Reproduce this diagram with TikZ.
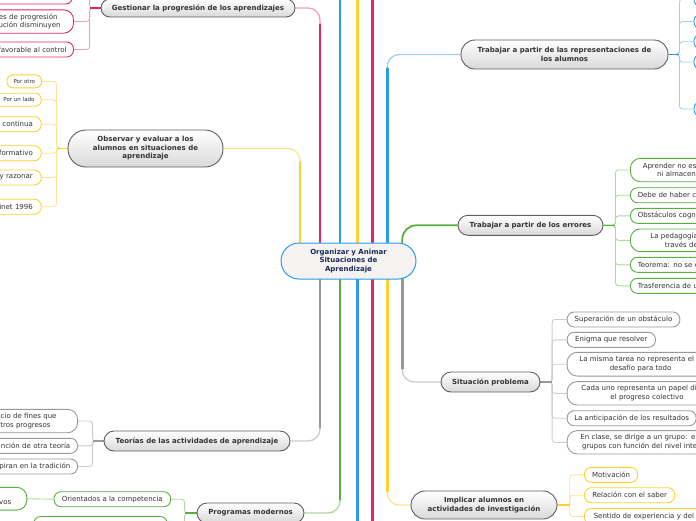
\documentclass[tikz,border=0pt]{standalone}
\usepackage{fontspec}
\setmainfont{DejaVu Sans}
\usetikzlibrary{calc}
\definecolor{redM}{HTML}{E2266C}
\definecolor{redL}{HTML}{F4A0BE}
\definecolor{yelM}{HTML}{FDD22E}
\definecolor{yelL}{HTML}{FCE592}
\definecolor{bluM}{HTML}{2C9AE8}
\definecolor{bluL}{HTML}{9CCFF5}
\definecolor{grnM}{HTML}{58AE3E}
\definecolor{grnL}{HTML}{ACD9A0}
\definecolor{gryM}{HTML}{999999}
\definecolor{gryL}{HTML}{CCCCCC}
\definecolor{txt}{HTML}{333333}
\definecolor{navy}{HTML}{1B2A56}
\definecolor{mainbd}{HTML}{5E5E5E}
\definecolor{cenfill}{HTML}{F5F3F2}
\pgfdeclarelayer{bg}
\pgfsetlayers{bg,main}
\begin{document}
\begin{tikzpicture}[x=1pt,y=-1pt,
  topic/.style={draw=mainbd, line width=0.9pt, top color=white, bottom color=black!15,
    text=txt, font=\fontsize{7}{8.5}\selectfont\bfseries, align=center, inner sep=0pt},
  leaf/.style={fill=white, line width=0.9pt, text=txt, font=\fontsize{7}{8.5}\selectfont,
    inner ysep=0pt, rounded corners=7pt, minimum height=15pt},
  leaf2/.style={leaf, minimum height=23.4pt, rounded corners=10pt},
  small/.style={font=\fontsize{5.5}{6.5}\selectfont, minimum height=13pt, rounded corners=6pt},
  lcut/.style={anchor=east, text width=110pt, align=right},
  rcut/.style={anchor=west, text width=160pt, align=left},
  leafR/.style={leaf, draw=redM},
  leafY/.style={leaf, draw=yelM},
  leafB/.style={leaf, draw=bluM},
  leafG/.style={leaf, draw=grnM},
  leafK/.style={leaf, draw=gryM},
  trunk/.style={line width=2.6pt, line cap=round},
  twig/.style={line width=1.3pt, rounded corners=12pt},
  sub/.style={line width=0.9pt, rounded corners=3pt},
  stub/.style={line width=1.5pt}
]
\useasboundingbox (0,0) rectangle (696,520);
\clip (0,0) rectangle (696,520);

% ---------- centre ----------
\node[draw=bluM, line width=1pt, fill=cenfill, text=navy, font=\fontsize{7}{8.3}\selectfont\bfseries,
  align=center, minimum width=135pt, minimum height=36pt, rounded corners=18pt, inner sep=0pt]
  (cen) at (348.5,261) {Organizar y Animar\\Situaciones de\\Aprendizaje};

% ---------- main topics ----------
\node[topic, minimum width=194pt, minimum height=18pt, rounded corners=9pt] (gest) at (198,8)
  {Gestionar la progresión de los aprendizajes};
\node[topic, minimum width=155pt, minimum height=37pt, rounded corners=18pt] (obs) at (145.5,148.5)
  {Observar y evaluar a los\\alumnos en situaciones de\\aprendizaje};
\node[topic, minimum width=186pt, minimum height=20pt, rounded corners=10pt] (teo) at (197,441)
  {Teorías de las actividades de aprendizaje};
\node[topic, minimum width=107pt, minimum height=20pt, rounded corners=10pt] (prog) at (250.5,513)
  {Programas modernos};
\node[topic, minimum width=207pt, minimum height=29pt, rounded corners=14pt] (trep) at (564.5,54.5)
  {Trabajar a partir de las representaciones de\\los alumnos};
\node[topic, minimum width=145pt, minimum height=20pt, rounded corners=10pt] (terr) at (530.5,225.3)
  {Trabajar a partir de los errores};
\node[topic, minimum width=99pt, minimum height=20pt, rounded corners=10pt] (sit) at (490.5,382)
  {Situación problema};
\node[topic, minimum width=146pt, minimum height=28pt, rounded corners=14pt] (impl) at (484,505)
  {Implicar alumnos en\\actividades de investigación};

% ---------- red leaves ----------
\node[leafR, anchor=east, minimum width=100pt, minimum height=16pt] (rc0) at (73,-4) {};
\node[leafR, leaf2, lcut, inner xsep=13pt] (rc1) at (74,21.5) {es de progresión\kern3pt\\ución disminuyen};
\node[leafR, lcut, inner xsep=7pt] (rc2) at (74,49.5) {favorable al control};

% ---------- yellow leaves (left) ----------
\node[leafY, small, minimum width=34.7pt, inner xsep=0pt] (yc1) at (24.3,81.3) {Por otro};
\node[leafY, small, lcut, inner xsep=6.7pt] (yc2) at (41.7,99.7) {Por un lado};
\node[leafY, lcut, inner xsep=8.4pt] (yc3) at (41.7,124.2) {a continua};
\node[leafY, lcut, inner xsep=8.4pt] (yc4) at (41.7,153.2) {formativo};
\node[leafY, lcut, inner xsep=8.4pt] (yc5) at (41.7,177.5) {y razonar};
\node[leafY, lcut, inner xsep=8.4pt] (yc6) at (41.7,206.7) {inet 1996};

% ---------- grey leaves (left) ----------
\node[leafK, leaf2, lcut, inner xsep=21pt] (gc1) at (78,421) {icio de fines que\\tros progresos\kern6pt};
\node[leafK, lcut, inner xsep=7.3pt] (gc2) at (78,445.8) {nción de otra teoría};
\node[leafK, lcut, inner xsep=7.3pt] (gc3) at (78,466.5) {piran en la tradición};

% ---------- green leaves (left) ----------
\node[leafG, minimum width=116.7pt, inner xsep=0pt] (pc1) at (112.3,499.2) {Orientados a la competencia};
\node[leafG, anchor=north west, minimum width=133.4pt, minimum height=20pt] (pc2) at (33.3,516) {};
\node[leafG, leaf2, lcut, text width=60pt, inner xsep=15.6pt, minimum height=22.7pt] (pc0) at (27.3,498.7) {\phantom{vos}\\vos};

% ---------- blue leaves (right) ----------
\foreach \n/\yy in {b0/-1, b1/21.5, b2/41.7, b3/62, b4/109}
  \node[leafB, anchor=west, minimum width=40pt] (\n) at (693.5,\yy) {};

% ---------- green leaves (right) ----------
\node[leafG, leaf2, rcut, inner xsep=12.3pt] (ec1) at (630,170) {Aprender no es\\\hspace*{14.4pt}ni almacena};
\node[leafG, rcut, inner xsep=7.3pt] (ec2) at (630,195.2) {Debe de haber c};
\node[leafG, rcut, inner xsep=7.3pt] (ec3) at (630,215.8) {Obstáculos cogni};
\node[leafG, leaf2, rcut, inner xsep=20pt, minimum height=22.7pt] (ec4) at (630,240.3) {La pedagogía\\\hspace*{14.3pt}través de};
\node[leafG, rcut, inner xsep=7.3pt] (ec5) at (630,264.8) {Teorema: no se e};
\node[leafG, rcut, inner xsep=7.3pt] (ec6) at (630,285.8) {Trasferencia de u};

% ---------- grey leaves (right) ----------
\node[leafK, anchor=west, minimum width=112.7pt, inner xsep=0pt] (sc1) at (566.7,319.5) {Superación de un obstáculo};
\node[leafK, anchor=west, minimum width=88.3pt, inner xsep=0pt] (sc2) at (566.7,339.8) {Enigma que resolver};
\node[leafK, leaf2, rcut, inner xsep=12.3pt, minimum height=23.7pt] (sc3) at (566.7,364.2) {La misma tarea no representa el\\\hspace*{30.3pt}desafío para todo};
\node[leafK, leaf2, rcut, inner xsep=14.3pt, minimum height=23.3pt] (sc4) at (566.7,393.3) {Cada uno representa un papel di\\\hspace*{29pt}el progreso colectivo};
\node[leafK, anchor=west, minimum width=129pt, inner xsep=0pt] (sc5) at (566.7,418.2) {La anticipación de los resultados};
\node[leafK, leaf2, rcut, inner xsep=13.3pt, minimum height=23.3pt] (sc6) at (566.7,442.3) {En clase, se dirige a un grupo: e\\\hspace*{1.7pt}grupos con función del nivel inte};

% ---------- yellow leaves (right) ----------
\node[leafY, anchor=west, minimum width=53.3pt, inner xsep=0pt] (ic1) at (584,474.8) {Motivación};
\node[leafY, anchor=west, minimum width=90.3pt, inner xsep=0pt] (ic2) at (584,495.2) {Relación con el saber};
\node[leafY, rcut, inner xsep=9.3pt, minimum height=16pt] (ic3) at (584,516.5) {Sentido de experiencia y del t};

% off-canvas ends of the through lines
\coordinate (upA) at (340,-6);
\coordinate (upB) at (357.3,-6);
\coordinate (upC) at (372.7,-6);
\coordinate (dnA) at (357.3,526);
\coordinate (dnB) at (372.7,526);

\begin{pgfonlayer}{bg}
% through lines
\draw[trunk, bluM] (cen.north -| upA) -- (upA);
\draw[trunk, yelM] (cen.north -| upB) -- (upB);
\draw[trunk, redM] (cen.north -| upC) -- (upC);
\draw[trunk, bluM] (cen.south -| dnA) -- (dnA);
\draw[trunk, redM] (cen.south -| dnB) -- (dnB);

% red : gestionar
\draw[twig, redL] (cen.north) ++(-28.5,0) |- (gest.east);
\draw[trunk, redM] (cen.north) ++(-28.5,0) -- ++(0,-218);
% yellow : observar
\draw[twig, yelL] (cen.north) ++(-48.5,0) |- (obs.east);
\draw[trunk, yelM] (cen.north) ++(-48.5,0) -- ++(0,-80);
% grey : teorias
\draw[twig, gryL] (cen.south) ++(-28.5,0) |- (teo.east);
\draw[trunk, gryM] (cen.south) ++(-28.5,0) -- ++(0,148);
% green : programas
\draw[twig, grnL] (cen.south) ++(-8.5,0) |- (prog.east);
\draw[trunk, grnM] (cen.south) ++(-8.5,0) -- ++(0,220);
% blue : representaciones
\draw[twig, bluL] (cen.north) ++(38.8,0) |- (trep.west);
\draw[trunk, bluM] (cen.north) ++(38.8,0) -- ++(0,-174);
% green : errores
\draw[line width=1.8pt, grnM, rounded corners=14pt] (cen.north) ++(53.8,1) |- (terr.west);
% grey : situacion
\draw[twig, gryL] (cen.south) ++(53.8,-1) |- (sit.west);
\draw[trunk, gryM] (cen.south) ++(53.8,-1) -- ++(0,90);
% yellow : implicar
\draw[twig, yelL] (cen.south) ++(38.8,0) |- (impl.west);
\draw[trunk, yelM] (cen.south) ++(38.8,0) -- ++(0,212);

% sub-branches
\foreach \n in {rc0,rc1,rc2} \draw[sub, redL] (gest.west) -- ++(-11,0) |- (\n.east);
\draw[stub, redM] (gest.west) -- ++(-11,0);
\foreach \n in {yc1,yc2,yc3,yc4,yc5,yc6} \draw[sub, yelL] (obs.west) -- ++(-11,0) |- (\n.east);
\draw[stub, yelM] (obs.west) -- ++(-11,0);
\foreach \n in {gc1,gc2,gc3} \draw[sub, gryL] (teo.west) -- ++(-11,0) |- (\n.east);
\draw[stub, gryM] (teo.west) -- ++(-11,0);
\foreach \n in {pc1,pc2} \draw[sub, grnL] (prog.west) -- ++(-12,0) |- (\n.east);
\draw[stub, grnM] (prog.west) -- ++(-12,0);
\draw[sub, grnL] (pc1.west) -- (pc0.east);
\foreach \n in {b0,b1,b2,b3,b4} \draw[sub, bluL] (trep.east) -- ++(11,0) |- (\n.west);
\draw[stub, bluM] (trep.east) -- ++(11,0);
\foreach \n in {ec1,ec2,ec3,ec4,ec5,ec6} \draw[sub, grnL] (terr.east) -- ++(12,0) |- (\n.west);
\draw[stub, grnM] (terr.east) -- ++(12,0);
\foreach \n in {sc1,sc2,sc3,sc4,sc5,sc6} \draw[sub, gryL] (sit.east) -- ++(11.7,0) |- (\n.west);
\draw[stub, gryM] (sit.east) -- ++(11.7,0);
\foreach \n in {ic1,ic2,ic3} \draw[sub, yelL] (impl.east) -- ++(12.3,0) |- (\n.west);
\draw[stub, yelM] (impl.east) -- ++(12.3,0);
\end{pgfonlayer}
\end{tikzpicture}
\end{document}
